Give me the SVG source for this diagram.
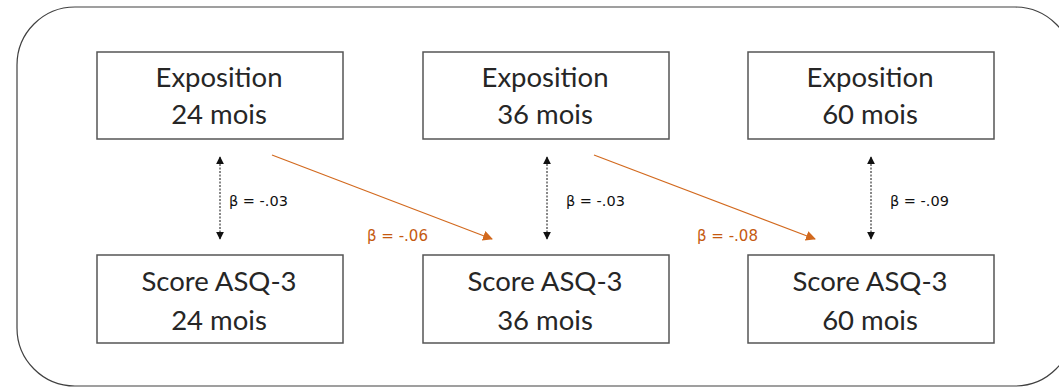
<svg xmlns="http://www.w3.org/2000/svg" width="1059" height="389" viewBox="0 0 1059 389">
<style>
.frame{fill:none;stroke:#404040;stroke-width:1.2}
.box{fill:#fff;stroke:#555;stroke-width:1.5}
.t{font-family:Lato,"Open Sans",sans-serif;font-size:27.5px;fill:#262626;text-anchor:middle}
.lb{font-family:"DejaVu Sans",Verdana,sans-serif;font-size:14.5px;fill:#111}
.lo{font-family:"DejaVu Sans",Verdana,sans-serif;font-size:15px;fill:#C55A11}
.dv{stroke:#111;stroke-width:1;stroke-dasharray:2 1.5;fill:none}
.or{stroke:#D2691E;stroke-width:1.2;fill:none}
</style>
<defs>
<marker id="ab" viewBox="0 0 10 10" refX="9" refY="5" markerWidth="8" markerHeight="8" markerUnits="userSpaceOnUse" orient="auto-start-reverse"><path d="M0,0 L10,5 L0,10 z" fill="#111"/></marker>
<marker id="ao" viewBox="0 0 10 10" refX="9" refY="5" markerWidth="10" markerHeight="10" markerUnits="userSpaceOnUse" orient="auto"><path d="M0,0 L10,5 L0,10 z" fill="#D2691E"/></marker>
</defs>
<rect class="frame" x="17" y="7" width="1056" height="379" rx="58" ry="58"/>
<g id="exp24"><rect class="box" x="97" y="52" width="246" height="87"/><text class="t" x="219" y="87">Exposition</text><text class="t" x="219" y="124">24 mois</text></g>
<g id="exp36"><rect class="box" x="423" y="52" width="246" height="87"/><text class="t" x="545" y="87">Exposition</text><text class="t" x="545" y="124">36 mois</text></g>
<g id="exp60"><rect class="box" x="748" y="52" width="246" height="87"/><text class="t" x="870" y="87">Exposition</text><text class="t" x="870" y="124">60 mois</text></g>
<g id="asq24"><rect class="box" x="97" y="255" width="246" height="88"/><text class="t" x="219" y="291">Score ASQ-3</text><text class="t" x="219" y="330">24 mois</text></g>
<g id="asq36"><rect class="box" x="423" y="255" width="246" height="88"/><text class="t" x="545" y="291">Score ASQ-3</text><text class="t" x="545" y="330">36 mois</text></g>
<g id="asq60"><rect class="box" x="748" y="255" width="246" height="88"/><text class="t" x="870" y="291">Score ASQ-3</text><text class="t" x="870" y="330">60 mois</text></g>
<g id="connectors">
<line class="dv" x1="220" y1="157" x2="220" y2="239" marker-start="url(#ab)" marker-end="url(#ab)"/>
<line class="dv" x1="547" y1="157" x2="547" y2="239" marker-start="url(#ab)" marker-end="url(#ab)"/>
<line class="dv" x1="871" y1="157" x2="871" y2="239" marker-start="url(#ab)" marker-end="url(#ab)"/>
<line class="or" x1="272" y1="155" x2="492" y2="239" marker-end="url(#ao)"/>
<line class="or" x1="594" y1="155" x2="815" y2="239" marker-end="url(#ao)"/>
<text class="lb" x="229" y="206">β = -.03</text>
<text class="lb" x="566" y="206">β = -.03</text>
<text class="lb" x="890" y="206">β = -.09</text>
<text class="lo" x="367" y="241">β = -.06</text>
<text class="lo" x="697" y="241">β = -.08</text>
</g>
</svg>
